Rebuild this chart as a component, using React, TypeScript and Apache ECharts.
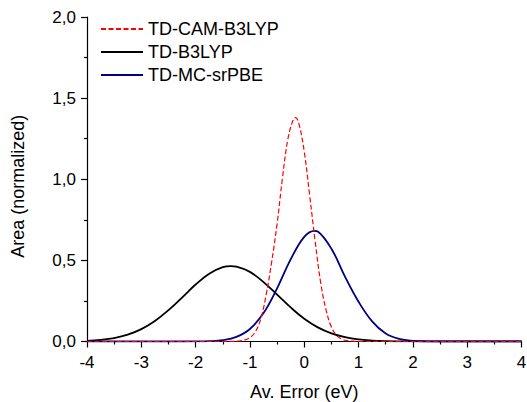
import React, { useEffect, useRef } from "react";
import * as echarts from "echarts";

const seriesNames = ["TD-CAM-B3LYP", "TD-B3LYP", "TD-MC-srPBE"];

const camX = [-4, -2, -1.4, -1.2, -1.1, -1.0, -0.9, -0.8, -0.7, -0.6, -0.5, -0.4, -0.3, -0.2, -0.16, -0.1, 0, 0.1, 0.2, 0.3, 0.4, 0.5, 0.6, 0.7, 0.8, 0.9, 1.0, 1.2, 2, 4];
const camY = [0, 0, 0.0002, 0.003, 0.009, 0.024, 0.06, 0.14, 0.29, 0.49, 0.725, 1.011, 1.25, 1.37, 1.38, 1.345, 1.17, 0.9, 0.62, 0.368, 0.197, 0.089, 0.036, 0.014, 0.005, 0.002, 0.0004, 0, 0, 0];

const b3lypX = [-4, -3.75, -3.5, -3.25, -3, -2.75, -2.5, -2.25, -2, -1.75, -1.5, -1.35, -1.25, -1, -0.75, -0.5, -0.25, 0, 0.25, 0.5, 0.75, 1, 1.25, 1.5, 1.75, 2, 2.5, 3, 3.5, 4];
const b3lypY = [0.004, 0.01, 0.021, 0.042, 0.076, 0.126, 0.193, 0.271, 0.351, 0.418, 0.458, 0.465, 0.462, 0.429, 0.366, 0.289, 0.21, 0.14, 0.087, 0.05, 0.027, 0.013, 0.006, 0.0025, 0.001, 0.0003, 0, 0, 0, 0];

const mcX = [-4, -2.5, -2, -1.75, -1.5, -1.25, -1, -0.75, -0.5, -0.25, 0, 0.19, 0.25, 0.5, 0.75, 1, 1.25, 1.5, 1.75, 2, 2.25, 2.5, 3, 4];
const mcY = [0, 0, 0.0004, 0.002, 0.008, 0.028, 0.077, 0.175, 0.328, 0.506, 0.645, 0.682, 0.678, 0.572, 0.4, 0.245, 0.124, 0.049, 0.016, 0.004, 0.001, 0, 0, 0];

const xTicks = { min: -4, max: 4, interval: 1 };
const yTicks = { min: 0, max: 2, interval: 0.5 };

const FONT = "'Liberation Sans', Arial, sans-serif";

function pairs(xs: number[], ys: number[]) {
  return xs.map((x, i) => [x, ys[i]]);
}

export default function App() {
  const ref = useRef<HTMLDivElement>(null);
  useEffect(() => {
    if (!ref.current) return;
    const chart = echarts.init(ref.current, undefined, { renderer: "svg" });
    const axisCommon = {
      axisLine: { show: true, onZero: false, lineStyle: { color: "#000", width: 1.2 } },
      axisTick: { show: true, inside: false, length: 6, lineStyle: { color: "#000", width: 1.2 } },
      minorTick: { show: true, splitNumber: 2, length: 3, lineStyle: { color: "#000", width: 1.2 } },
      splitLine: { show: false },
      minorSplitLine: { show: false },
    };
    chart.setOption({
      animation: false,
      backgroundColor: "#fff",
      grid: { left: 87, right: 5.5, top: 17, bottom: 60.5, containLabel: false, outerBoundsMode: "none" },
      legend: {
        data: seriesNames,
        orient: "vertical",
        left: 95,
        top: 15,
        itemWidth: 42,
        itemHeight: 14,
        itemGap: 5,
        itemStyle: { color: "transparent", borderWidth: 0, opacity: 0 },
        textStyle: { fontFamily: FONT, fontSize: 18, color: "#000" },
      },
      xAxis: {
        type: "value",
        min: xTicks.min,
        max: xTicks.max,
        interval: xTicks.interval,
        ...axisCommon,
        axisLabel: { color: "#000", fontFamily: FONT, fontSize: 17, margin: 12, showMaxLabel: true, showMinLabel: true, hideOverlap: false },
        name: "Av. Error (eV)",
        nameLocation: "middle",
        nameGap: 41,
        nameTextStyle: { fontFamily: FONT, fontSize: 18, color: "#000" },
      },
      yAxis: {
        type: "value",
        min: yTicks.min,
        max: yTicks.max,
        interval: yTicks.interval,
        ...axisCommon,
        axisLabel: {
          color: "#000",
          fontFamily: FONT,
          fontSize: 17,
          margin: 11,
          formatter: (v: number) => v.toFixed(1).replace(".", ","),
        },
        name: "Area (normalized)",
        nameLocation: "middle",
        nameGap: 60,
        nameTextStyle: { fontFamily: FONT, fontSize: 18, color: "#000", padding: [0, 14, 0, 0] },
      },
      series: [
        {
          name: seriesNames[1],
          type: "line",
          data: pairs(b3lypX, b3lypY),
          smooth: 0.4,
          symbol: "none",
          lineStyle: { color: "#000000", width: 1.8 },
          itemStyle: { color: "#000000" },
          z: 2,
        },
        {
          name: seriesNames[2],
          type: "line",
          data: pairs(mcX, mcY),
          smooth: 0.4,
          symbol: "none",
          lineStyle: { color: "#000080", width: 1.8 },
          itemStyle: { color: "#000080" },
          z: 3,
        },
        {
          name: seriesNames[0],
          type: "line",
          data: pairs(camX, camY),
          smooth: 0.4,
          symbol: "none",
          lineStyle: { color: "#ff0000", width: 1.2, type: [5, 2.5] },
          itemStyle: { color: "#ff0000" },
          z: 4,
        },
      ],
    });
    return () => chart.dispose();
  }, []);
  return <div ref={ref} style={{ width: 527, height: 402, position: "absolute", left: 0, top: 0 }} />;
}
